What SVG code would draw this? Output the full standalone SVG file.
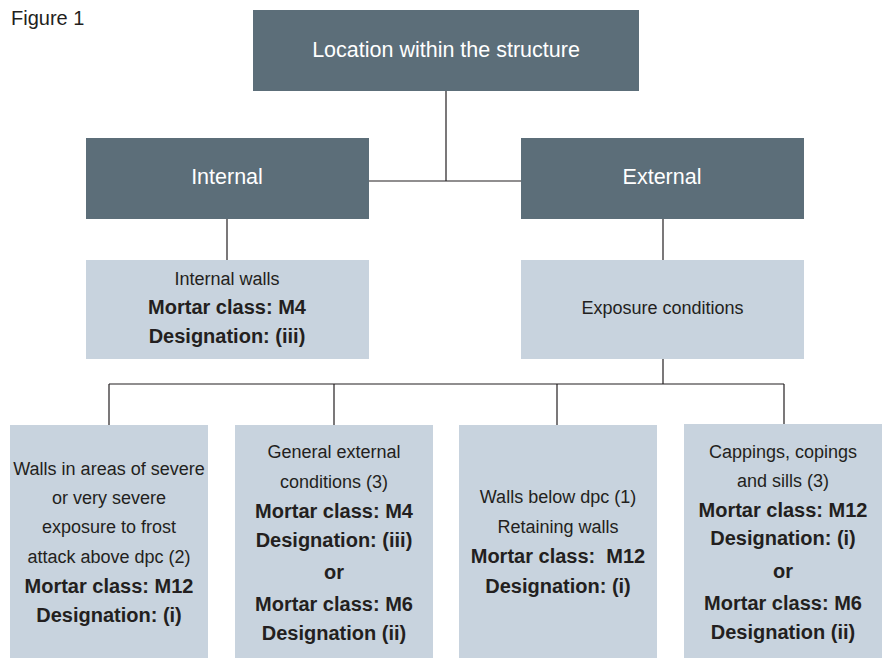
<svg xmlns="http://www.w3.org/2000/svg" width="884" height="659" viewBox="0 0 884 659">
<style>
.dark{fill:#5c6e79}
.light{fill:#c8d3de}
.t{font-family:"Liberation Sans",Arial,sans-serif;text-anchor:middle}
.w{fill:#ffffff;font-size:21.5px}
.r{fill:#231f20;font-size:18px}
.b{fill:#231f20;font-size:20px;font-weight:bold}
.conn line{stroke:#231f20;stroke-width:1.2}
</style>
<rect width="884" height="659" fill="#ffffff"/>
<text x="11" y="25" font-family="Liberation Sans,Arial,sans-serif" font-size="20" fill="#231f20">Figure 1</text>
<g id="connectors" class="conn">
<line x1="446" y1="91" x2="446" y2="181"/>
<line x1="369" y1="181" x2="521" y2="181"/>
<line x1="227" y1="219" x2="227" y2="260"/>
<line x1="663" y1="219" x2="663" y2="260"/>
<line x1="663" y1="359" x2="663" y2="384"/>
<line x1="109" y1="384" x2="784" y2="384"/>
<line x1="109" y1="384" x2="109" y2="425"/>
<line x1="334" y1="384" x2="334" y2="425"/>
<line x1="557" y1="384" x2="557" y2="425"/>
<line x1="784" y1="384" x2="784" y2="424"/>
</g>
<g id="location">
<rect class="dark" x="253" y="10" width="386" height="81"/>
<text class="t w" x="446" y="57">Location within the structure</text>
</g>
<g id="internal">
<rect class="dark" x="86" y="138" width="283" height="81"/>
<text class="t w" x="227" y="184">Internal</text>
</g>
<g id="external">
<rect class="dark" x="521" y="138" width="283" height="81"/>
<text class="t w" x="662" y="184">External</text>
</g>
<g id="internal-walls">
<rect class="light" x="86" y="260" width="283" height="99"/>
<text class="t r" x="227" y="285">Internal walls</text>
<text class="t b" x="227" y="314">Mortar class: M4</text>
<text class="t b" x="227" y="343">Designation: (iii)</text>
</g>
<g id="exposure">
<rect class="light" x="521" y="260" width="283" height="99"/>
<text class="t r" x="662.5" y="314">Exposure conditions</text>
</g>
<g id="severe">
<rect class="light" x="10" y="425" width="198" height="233"/>
<text class="t r" x="109" y="475">Walls in areas of severe</text>
<text class="t r" x="109" y="504">or very severe</text>
<text class="t r" x="109" y="533">exposure to frost</text>
<text class="t r" x="109" y="563">attack above dpc (2)</text>
<text class="t b" x="109" y="593">Mortar class: M12</text>
<text class="t b" x="109" y="622">Designation: (i)</text>
</g>
<g id="general">
<rect class="light" x="235" y="425" width="198" height="233"/>
<text class="t r" x="334" y="458">General external</text>
<text class="t r" x="334" y="488">conditions (3)</text>
<text class="t b" x="334" y="518">Mortar class: M4</text>
<text class="t b" x="334" y="547">Designation: (iii)</text>
<text class="t b" x="334" y="579">or</text>
<text class="t b" x="334" y="611">Mortar class: M6</text>
<text class="t b" x="334" y="640">Designation (ii)</text>
</g>
<g id="below-dpc">
<rect class="light" x="459" y="425" width="198" height="233"/>
<text class="t r" x="558" y="503">Walls below dpc (1)</text>
<text class="t r" x="558" y="533">Retaining walls</text>
<text class="t b" x="558" y="563" xml:space="preserve">Mortar class:  M12</text>
<text class="t b" x="558" y="593">Designation: (i)</text>
</g>
<g id="cappings">
<rect class="light" x="684" y="424" width="198" height="234"/>
<text class="t r" x="783" y="458">Cappings, copings</text>
<text class="t r" x="783" y="487">and sills (3)</text>
<text class="t b" x="783" y="517">Mortar class: M12</text>
<text class="t b" x="783" y="545">Designation: (i)</text>
<text class="t b" x="783" y="578">or</text>
<text class="t b" x="783" y="610">Mortar class: M6</text>
<text class="t b" x="783" y="639">Designation (ii)</text>
</g>
</svg>
